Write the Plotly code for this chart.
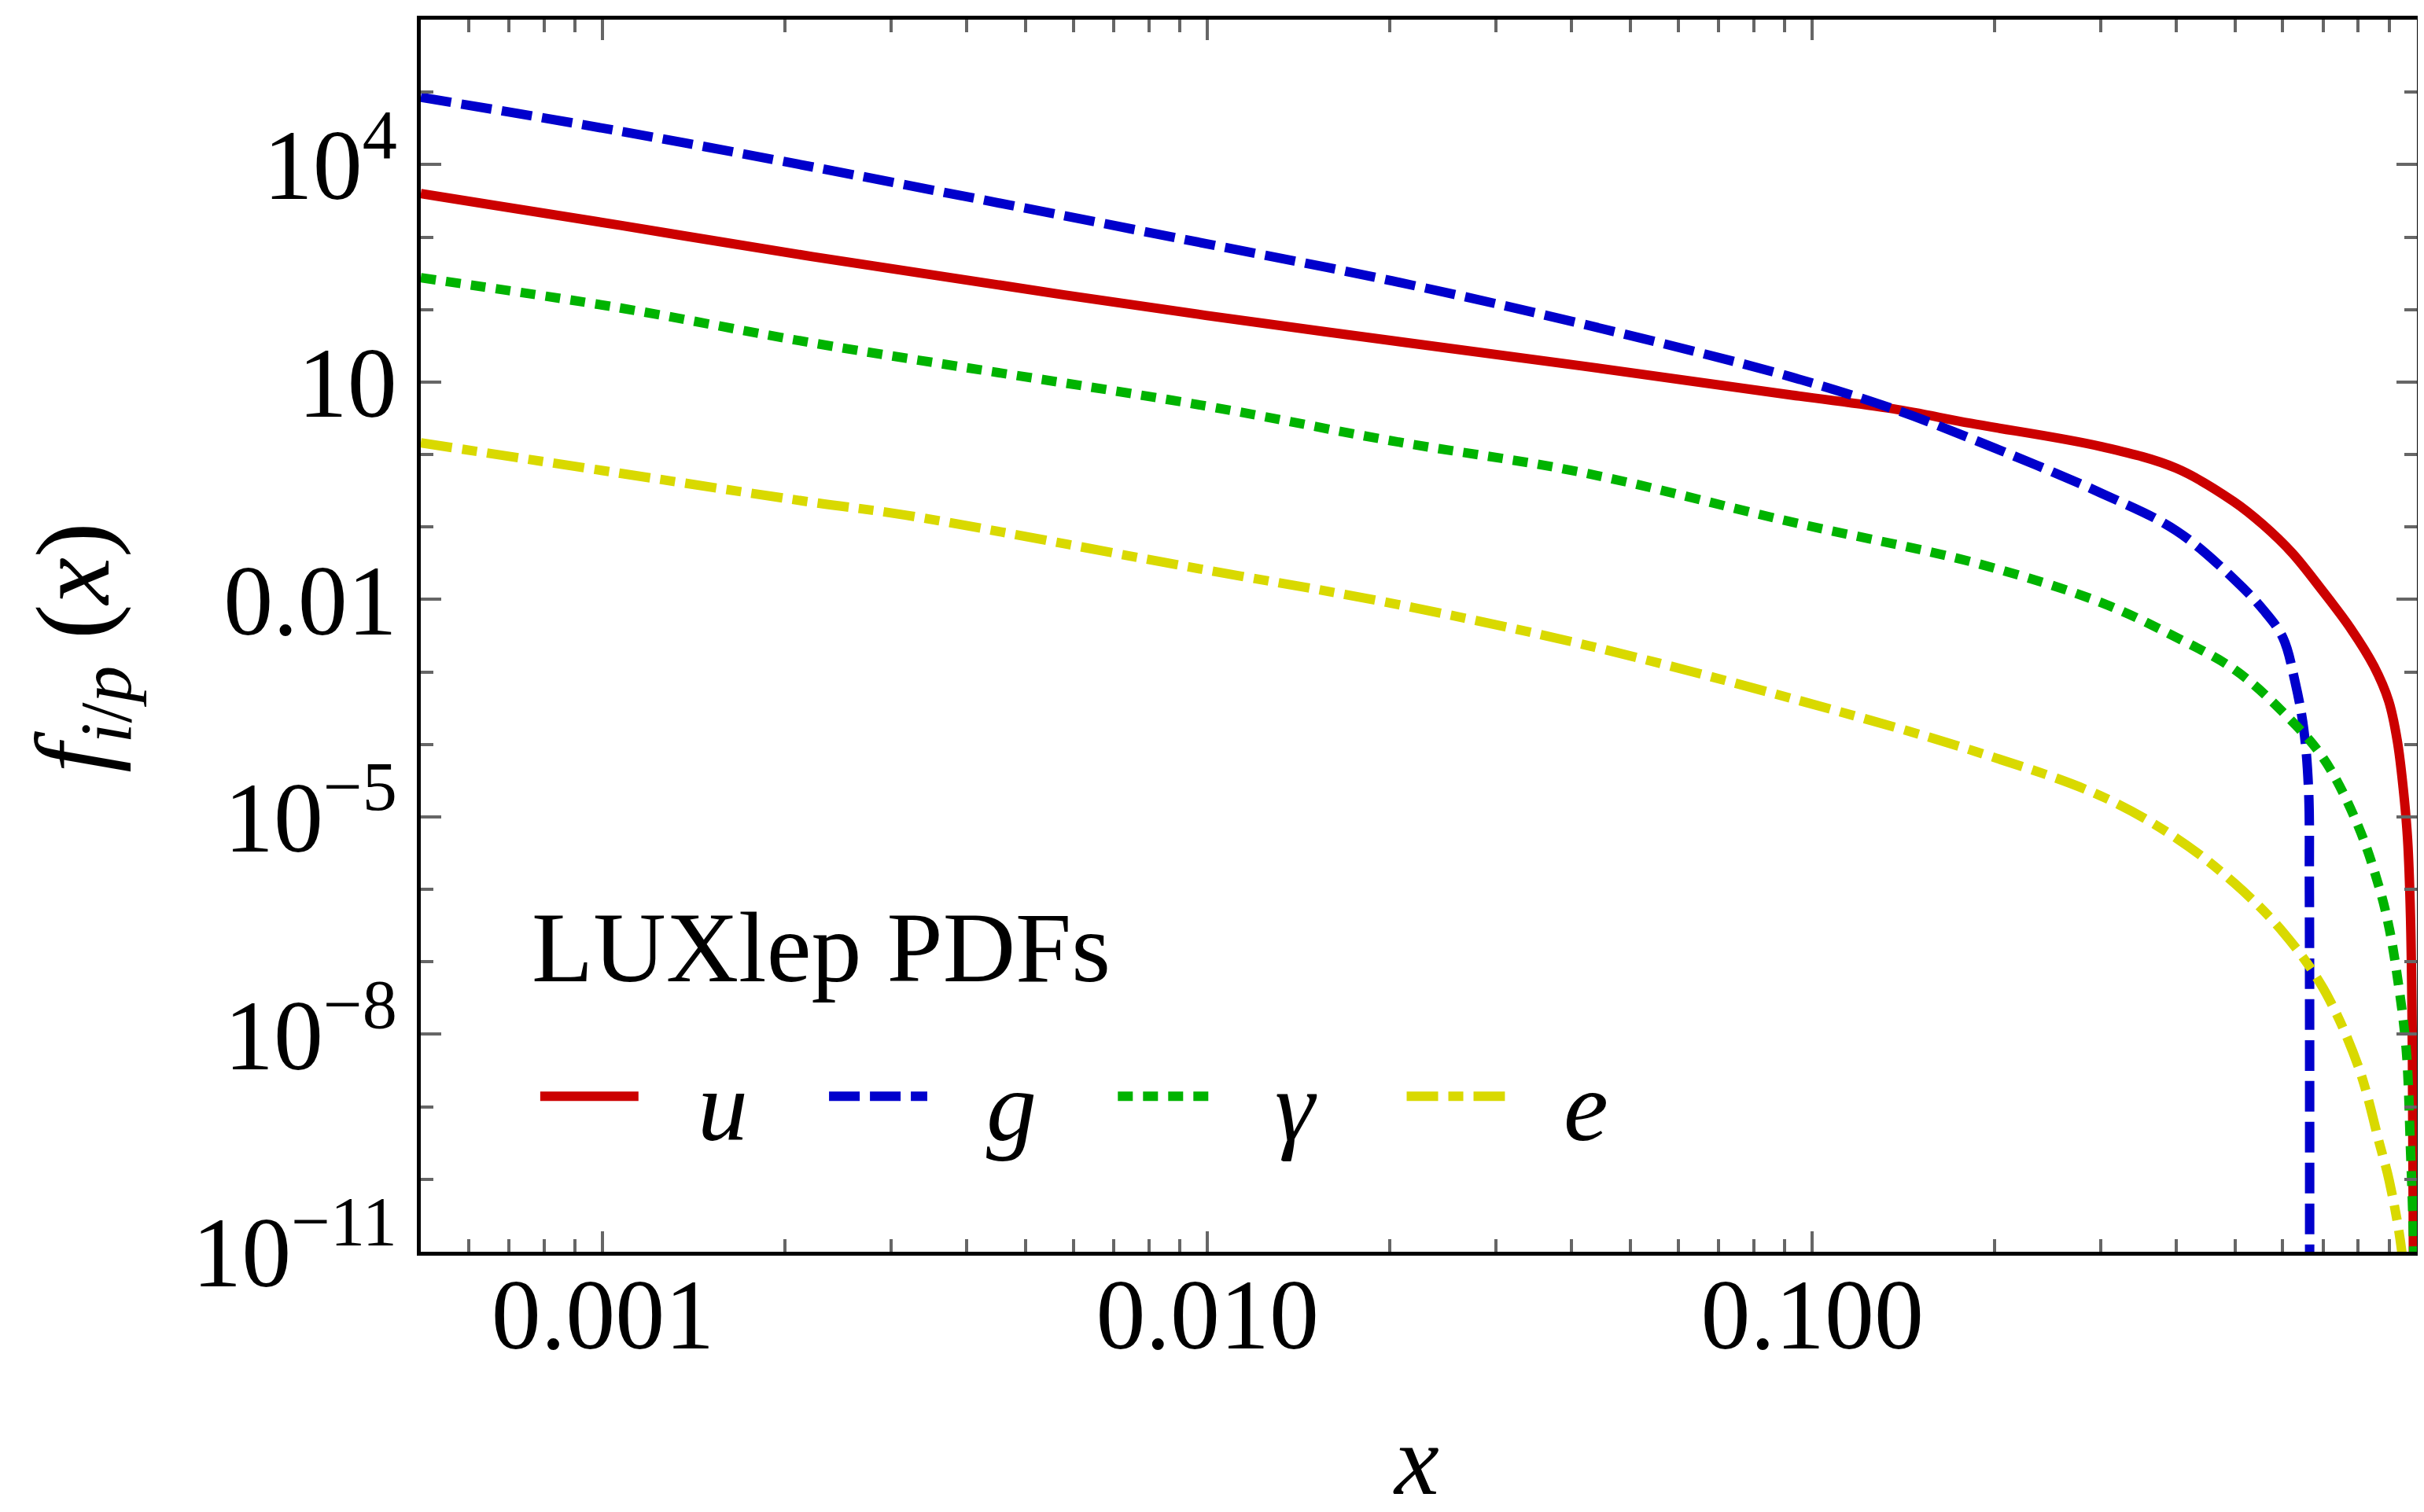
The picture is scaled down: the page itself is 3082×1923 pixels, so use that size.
import plotly.graph_objects as go

# ---------------- data ----------------
x_u = [5e-4, 1.07e-3, 2.22e-3, 0.00993, 0.0418, 0.0925, 0.136, 0.183, 0.3, 0.4,
       0.498, 0.557, 0.622, 0.695, 0.777, 0.849, 0.898, 0.928, 0.949, 0.965,
       0.976, 0.983, 0.988]
u_vals = [3.98e3, 1.45e3, 537, 83.2, 16.6, 6.61, 4.27, 2.69, 1.29, 0.646,
          0.224, 0.107, 0.0437, 0.0138, 3.98e-3, 1.2e-3, 3.98e-4, 1.12e-4,
          2.51e-5, 5.0e-6, 4.0e-7, 5.0e-9, 1e-12]

x_g = [5e-4, 1.07e-3, 2.22e-3, 0.00993, 0.0201, 0.0418, 0.0925, 0.136, 0.183,
       0.3, 0.4, 0.5, 0.557, 0.6, 0.629, 0.65, 0.662, 0.664, 0.6645]
g_vals = [8.5e4, 2.88e4, 9.3e3, 813, 251, 63, 11.7, 4.27, 1.66, 0.295, 0.089,
          0.0186, 7.2e-3, 3.0e-3, 7.2e-4, 1.6e-4, 2.3e-5, 1e-6, 1e-13]

x_gamma = [5e-4, 1.07e-3, 2.22e-3, 0.00993, 0.0201, 0.0418, 0.0925, 0.187, 0.3,
           0.4, 0.5, 0.6, 0.7, 0.8, 0.868, 0.9, 0.928, 0.96, 0.976, 0.987, 0.992]
gamma_vals = [275, 105, 34.7, 4.68, 1.55, 0.562, 0.117, 0.0316, 9.1e-3, 3.0e-3,
              1.07e-3, 2.8e-4, 6.5e-5, 7.4e-6, 1.0e-6, 2.9e-7, 6.3e-8, 6.3e-9,
              2.5e-10, 1.4e-11, 3.2e-13]

x_e = [5e-4, 1.07e-3, 2.22e-3, 3.18e-3, 0.0093, 0.0201, 0.0418, 0.0925, 0.187,
       0.3, 0.4, 0.5, 0.6, 0.7, 0.8, 0.868, 0.9, 0.944, 0.96]
e_vals = [1.45, 0.55, 0.219, 0.145, 0.0282, 8.9e-3, 2.4e-3, 4.3e-4, 7.9e-5,
          1.95e-5, 5.1e-6, 1.2e-6, 2.6e-7, 4.3e-8, 3.6e-9, 3.0e-10, 9.5e-11,
          1e-11, 1e-12]

names = ["u", "g", "γ", "e"]
colors = ["#CC0000", "#0000CC", "#00B300", "#D9D900"]
dashes = ["solid", "39px,13px", "19px,13px", "40px,13px,19px,13px"]
series_x = [x_u, x_g, x_gamma, x_e]
series_y = [u_vals, g_vals, gamma_vals, e_vals]

x_major = [1e-3, 1e-2, 1e-1, 1]
x_major_text = ["0.001", "0.010", "0.100", "1"]
y_major = [1e4, 10, 1e-2, 1e-5, 1e-8, 1e-11]
y_major_text = ["10<sup>4</sup>", "10", "0.01", "10<sup>−5</sup>",
                "10<sup>−8</sup>", "10<sup>−11</sup>"]

x_minor = [k * 10.0 ** e for e in (-4, -3, -2, -1) for k in range(2, 10)
           if 5.5e-4 < k * 10.0 ** e < 0.99]
y_minor = [10.0 ** e for e in range(-10, 6) if e not in (4, 1, -2, -5, -8)]

# ---------------- layout constants ----------------
W, H = 3082, 1923
ML, MR, MT, MB = 527, 15, 16, 339
PW, PH = W - ML - MR, H - MT - MB
FONT = "Liberation Serif"
FS = 126


def pxx(px):
    return (px - ML) / PW


def pyy(py):
    return (H - MB - py) / PH


fig = go.Figure()
for xs, ys, c, d, n in zip(series_x, series_y, colors, dashes, names):
    fig.add_trace(go.Scatter(x=xs, y=ys, mode="lines", name=n, showlegend=False,
                             line=dict(color=c, width=12, dash=d,
                                       shape="spline", smoothing=1.0)))

axis_common = dict(
    type="log", showline=True, linecolor="black", linewidth=5, mirror="allticks",
    ticks="inside", ticklen=26, tickwidth=4, tickcolor="#666666",
    showgrid=False, zeroline=False,
    tickfont=dict(family=FONT, size=FS, color="black"),
)

fig.update_xaxes(range=[-3.30103, 0], tickmode="array", tickvals=x_major,
                 ticktext=x_major_text, ticklabelstandoff=-33,
                 minor=dict(tickmode="array", tickvals=x_minor, ticks="inside",
                            ticklen=16, tickwidth=4, tickcolor="#666666", showgrid=False),
                 **axis_common)
fig.update_yaxes(range=[-11, 6], tickmode="array", tickvals=y_major,
                 ticktext=y_major_text,
                 minor=dict(tickmode="array", tickvals=y_minor, ticks="inside",
                            ticklen=16, tickwidth=4, tickcolor="#666666", showgrid=False),
                 **axis_common)

# ---------------- manual legend ----------------
shapes = []
annotations = []
LEG_X0, LEG_DX, LEG_LEN, LEG_Y = 679, 367.5, 125, 1386
LABEL_DX, LABEL_CY = 198, 1399
for i, (n, c, d) in enumerate(zip(names, colors, dashes)):
    x0 = LEG_X0 + i * LEG_DX
    shapes.append(dict(type="line", xref="paper", yref="paper",
                       x0=pxx(x0), x1=pxx(x0 + LEG_LEN), y0=pyy(LEG_Y), y1=pyy(LEG_Y),
                       line=dict(color=c, width=12, dash=d)))
    annotations.append(dict(text="<i>%s</i>" % n, xref="paper", yref="paper",
                            x=pxx(x0 + LABEL_DX), y=pyy(LABEL_CY),
                            xanchor="left", yanchor="middle", showarrow=False,
                            font=dict(family=FONT, size=FS + 2, color="black")))

annotations.append(dict(text="LUXlep PDFs", xref="paper", yref="paper",
                        x=pxx(666), y=pyy(1197), xanchor="left", yanchor="middle",
                        showarrow=False, font=dict(family=FONT, size=FS + 2, color="black")))

# axis titles
annotations.append(dict(text="<i>f</i><sub><i>i</i>/<i>p</i></sub> (<i>x</i>)",
                        xref="paper", yref="paper", x=pxx(94), y=pyy(815),
                        xanchor="center", yanchor="middle", textangle=-90,
                        showarrow=False, font=dict(family=FONT, size=FS + 8, color="black")))
annotations.append(dict(text="<i>x</i>", xref="paper", yref="paper",
                        x=pxx(1793), y=pyy(1922), xanchor="center", yanchor="bottom",
                        showarrow=False, font=dict(family=FONT, size=FS + 2, color="black")))

fig.update_layout(
    width=W, height=H, autosize=False,
    margin=dict(l=ML, r=MR, t=MT, b=MB, pad=0),
    paper_bgcolor="white", plot_bgcolor="white",
    shapes=shapes, annotations=annotations, showlegend=False,
)

fig.write_html("out.html", config={"displayModeBar": False})
